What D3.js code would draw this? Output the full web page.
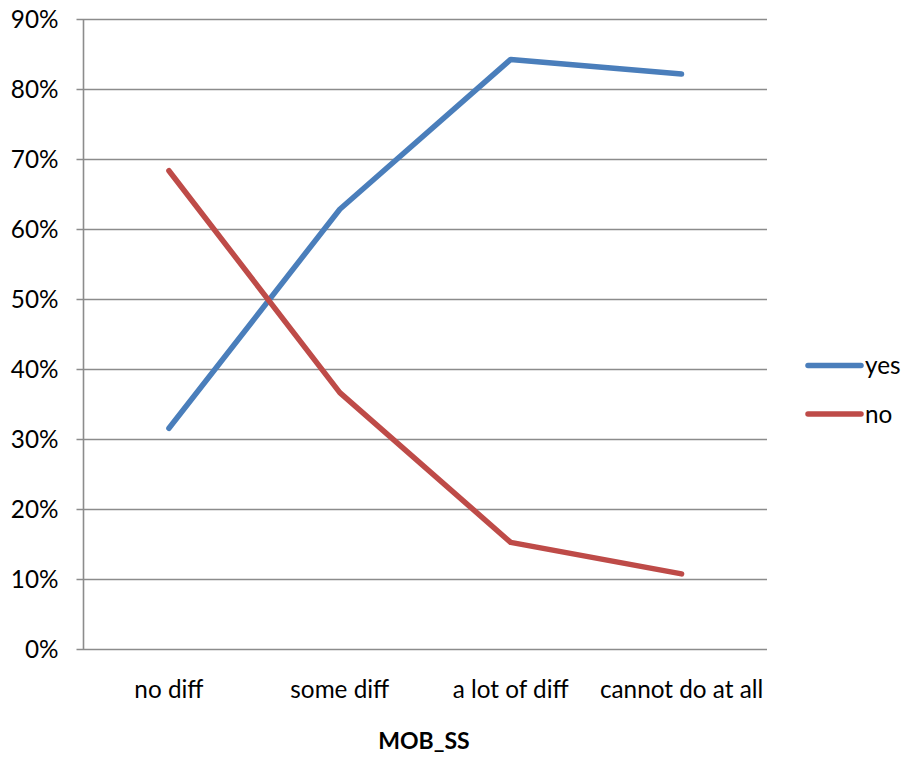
<!DOCTYPE html>
<html><head><meta charset="utf-8">
<script src="https://cdn.jsdelivr.net/npm/d3@7"></script>
<style>body{margin:0;background:#fff}svg{display:block}text{font-family:Lato,"Open Sans",sans-serif;fill:#000}</style>
</head><body><svg id="c" width="904" height="757"></svg>
<script>
const categories = ["no diff", "some diff", "a lot of diff", "cannot do at all"];
const yesValues = [0.316, 0.629, 0.843, 0.822];
const noValues = [0.684, 0.367, 0.153, 0.108];
const seriesNames = ["yes", "no"];
const seriesColors = ["#4A7EBB", "#BE4B48"];
const yTicks = [0, 0.1, 0.2, 0.3, 0.4, 0.5, 0.6, 0.7, 0.8, 0.9];
const xTitle = "MOB_SS";

const svg = d3.select("#c");
const L = 83.5, R = 767, T = 19.5, B = 649.5;
const FS = 24.3;
const x = d3.scaleBand().domain(categories).range([L, R]);
const y = d3.scaleLinear().domain([0, 0.9]).range([B, T]);

// gridlines
svg.append("g").selectAll("line").data(yTicks).join("line")
  .attr("x1", L - 7).attr("x2", R)
  .attr("y1", d => y(d)).attr("y2", d => y(d))
  .attr("stroke", "#8c8c8c").attr("stroke-width", 1.6);
// y axis line
svg.append("line").attr("x1", L).attr("x2", L).attr("y1", T).attr("y2", B)
  .attr("stroke", "#8c8c8c").attr("stroke-width", 1.6);
// y labels
svg.append("g").selectAll("text").data(yTicks).join("text")
  .attr("x", 58.5).attr("y", d => y(d)).attr("dy", "0.35em")
  .attr("text-anchor", "end").attr("font-size", FS)
  .text(d => d3.format(".0%")(d));
// x labels
svg.append("g").selectAll("text").data(categories).join("text")
  .attr("x", d => x(d) + x.bandwidth() / 2).attr("y", 697.5)
  .attr("text-anchor", "middle").attr("font-size", FS)
  .text(d => d);
svg.append("text").attr("x", 424).attr("y", 749).attr("text-anchor", "middle")
  .attr("font-size", 23).attr("font-weight", "bold").text(xTitle);

const line = d3.line().x((d, i) => x(categories[i]) + x.bandwidth() / 2).y(d => y(d));
[yesValues, noValues].forEach((vals, k) => {
  svg.append("path").attr("d", line(vals)).attr("fill", "none")
    .attr("stroke", seriesColors[k]).attr("stroke-width", 5.5)
    .attr("stroke-linecap", "round").attr("stroke-linejoin", "round");
});

// legend
const legY = [365.5, 414];
seriesNames.forEach((n, k) => {
  svg.append("line").attr("x1", 808).attr("x2", 861).attr("y1", legY[k]).attr("y2", legY[k])
    .attr("stroke", seriesColors[k]).attr("stroke-width", 5.5).attr("stroke-linecap", "round");
  svg.append("text").attr("x", 865).attr("y", legY[k]).attr("dy", "0.35em")
    .attr("font-size", FS).text(n);
});
</script></body></html>
